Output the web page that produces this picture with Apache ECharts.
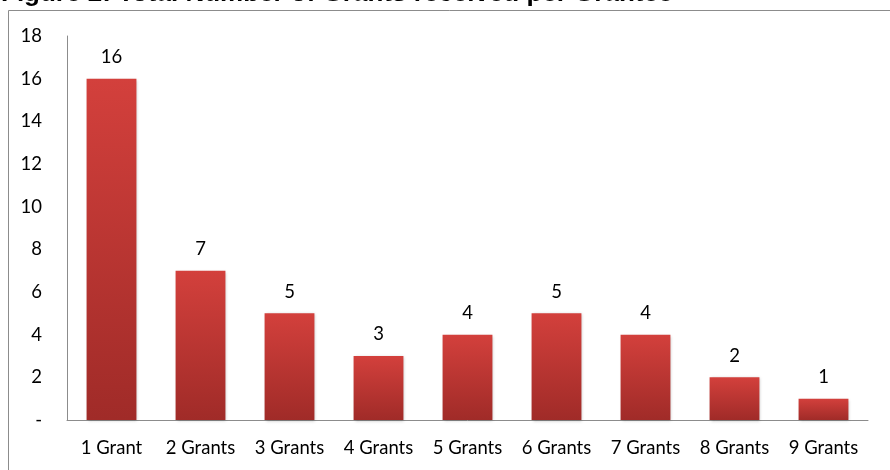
<!DOCTYPE html>
<html>
<head>
<meta charset="utf-8">
<script src="https://cdn.jsdelivr.net/npm/echarts@6/dist/echarts.min.js"></script>
<style>
  html, body { margin: 0; padding: 0; background: #ffffff; }
  #chart { width: 890px; height: 470px; }
</style>
</head>
<body>
<div id="chart"></div>
<script>
// Number of grantees by how many grants they received
const categories = ['1 Grant', '2 Grants', '3 Grants', '4 Grants', '5 Grants', '6 Grants', '7 Grants', '8 Grants', '9 Grants'];
const grantees = [16, 7, 5, 3, 4, 5, 4, 2, 1];
const titleText = 'Figure 2: Total Number of Grants received per Grantee';

const labelFont = 'Lato, "Open Sans", sans-serif';

const chart = echarts.init(document.getElementById('chart'), null, { renderer: 'canvas' });

chart.setOption({
  backgroundColor: '#ffffff',
  animation: false,
  graphic: [
    {
      type: 'rect',
      shape: { x: 8.5, y: 10.5, width: 900, height: 480 },
      style: { fill: 'none', stroke: '#8c8c8c', lineWidth: 1 },
      z: 0
    },
    {
      type: 'text',
      x: 1,
      y: 7,
      style: {
        text: titleText,
        font: 'bold 26px "Liberation Sans", Arial, sans-serif',
        fill: '#000000',
        textVerticalAlign: 'bottom'
      },
      z: 10
    }
  ],
  grid: { left: 67, right: 22, top: 36, bottom: 50, containLabel: false },
  xAxis: {
    type: 'category',
    data: categories,
    axisLine: { show: true, lineStyle: { color: '#8c8c8c', width: 1 } },
    axisTick: { show: false },
    axisLabel: { interval: 0, color: '#000000', fontSize: 18.5, fontFamily: labelFont, margin: 19 },
    splitLine: { show: false }
  },
  yAxis: {
    type: 'value',
    min: 0,
    max: 18,
    interval: 2,
    axisLine: { show: true, lineStyle: { color: '#8c8c8c', width: 1 } },
    axisTick: { show: false },
    splitLine: { show: false },
    axisLabel: {
      color: '#000000',
      fontSize: 18.5,
      fontFamily: labelFont,
      margin: 25,
      formatter: function (v) { return v === 0 ? '-' : String(v); }
    }
  },
  series: [
    {
      type: 'bar',
      data: grantees,
      barWidth: '56%',
      itemStyle: {
        color: new echarts.graphic.LinearGradient(0, 0, 0, 1, [
          { offset: 0, color: '#d3403c' },
          { offset: 1, color: '#a02b28' }
        ]),
        shadowColor: 'rgba(0,0,0,0.25)',
        shadowBlur: 3,
        shadowOffsetX: 1,
        shadowOffsetY: 1
      },
      label: {
        show: true,
        position: 'top',
        distance: 12,
        color: '#000000',
        fontSize: 18.5,
        fontFamily: labelFont
      }
    }
  ]
});
</script>
</body>
</html>
